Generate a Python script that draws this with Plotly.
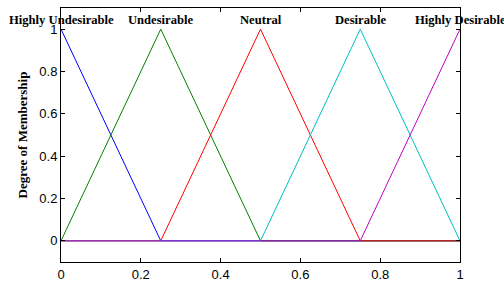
import plotly.graph_objects as go

x_pts = [0, 0.25, 0.5, 0.75, 1]
names = ["Highly Undesirable", "Undesirable", "Neutral", "Desirable", "Highly Desirable"]
mf_values = [
    [1, 0, 0, 0, 0],
    [0, 1, 0, 0, 0],
    [0, 0, 1, 0, 0],
    [0, 0, 0, 1, 0],
    [0, 0, 0, 0, 1],
]
peaks = [0, 0.25, 0.5, 0.75, 1]
colors = ["rgb(0,0,255)", "rgb(0,128,0)", "rgb(255,0,0)", "rgb(0,191,191)", "rgb(191,0,191)"]
x_ticks = [0, 0.2, 0.4, 0.6, 0.8, 1]
y_ticks = [0, 0.2, 0.4, 0.6, 0.8, 1]

fig = go.Figure()
for name, vals, c in zip(names, mf_values, colors):
    fig.add_trace(go.Scatter(x=x_pts, y=vals, mode="lines", name=name,
                             line=dict(color=c, width=1), cliponaxis=False))

for name, p in zip(names, peaks):
    fig.add_annotation(x=p, y=1.045, text="<b>%s</b>" % name, showarrow=False,
                       xanchor="center", yanchor="middle",
                       font=dict(family="Liberation Serif", size=12.6, color="black"))

axis_common = dict(showline=True, linecolor="black", linewidth=1, mirror="ticks",
                   ticks="inside", ticklen=4, tickcolor="black", showgrid=False,
                   zeroline=False, automargin=False,
                   tickfont=dict(family="Liberation Sans", size=13, color="black"))

fig.update_xaxes(range=[0, 1], tickvals=x_ticks, ticktext=[f"{v:g}" for v in x_ticks], **axis_common)
fig.update_yaxes(range=[-0.1, 1.1], tickvals=y_ticks, ticktext=[f"{v:g}" for v in y_ticks],
                 title=dict(text="<b>Degree of Membership</b>", standoff=8,
                            font=dict(family="Liberation Serif", size=13, color="black")),
                 **axis_common)

fig.update_layout(width=504, height=282, margin=dict(l=61, r=44, t=8, b=20),
                  paper_bgcolor="white", plot_bgcolor="white", showlegend=False,
                  hovermode=False)

fig.write_html("out.html", config={"displayModeBar": False, "staticPlot": True},
               post_script="document.body.style.margin='0px';document.body.style.overflow='hidden';")
